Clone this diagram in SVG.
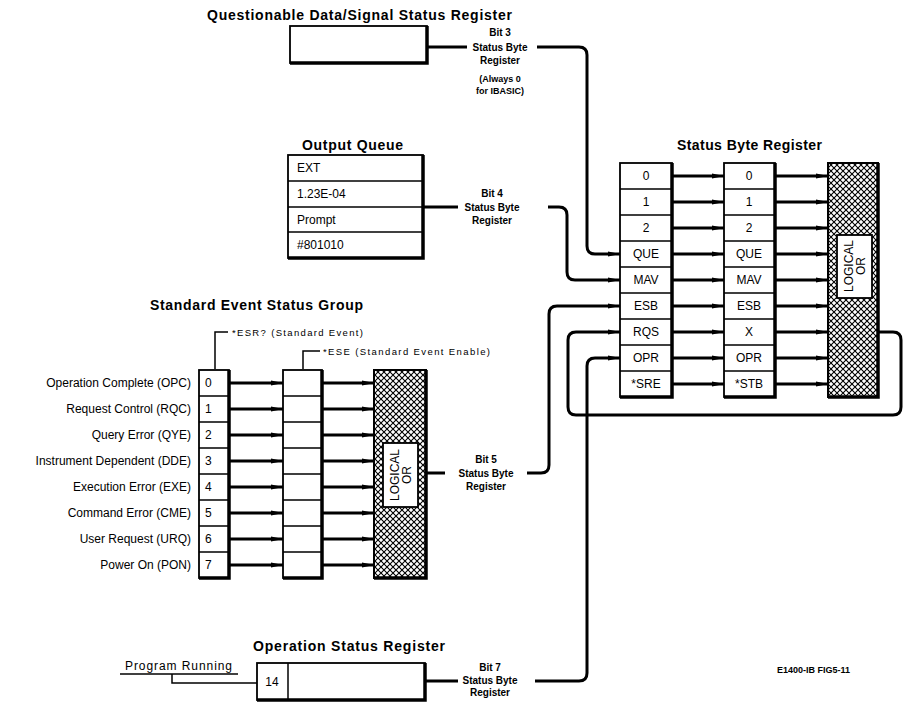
<svg xmlns="http://www.w3.org/2000/svg" width="904" height="702" viewBox="0 0 904 702">
<style>
text{font-family:"Liberation Sans",Arial,sans-serif;fill:#000}
.title{font-size:14px;font-weight:bold}
.lbl{font-size:12px}
.cell{font-size:12px;text-anchor:middle}
.bit{font-size:10px;font-weight:bold;text-anchor:middle}
.note{font-size:9px;font-weight:bold;text-anchor:middle}
.box{fill:#fff;stroke:#000;stroke-width:1.8}
.sh{fill:none;stroke:#000;stroke-width:3.5}
.div{stroke:#000;stroke-width:1.5}
.wire{fill:none;stroke:#000;stroke-width:3}
.thin{fill:none;stroke:#000;stroke-width:1.5}
.hatch{fill:url(#xh);stroke:#000;stroke-width:2}
</style>
<defs>
<pattern id="xh" patternUnits="userSpaceOnUse" width="6" height="6">
<rect width="6" height="6" fill="#fff"/>
<path d="M0,0 L6,6 M6,0 L0,6" stroke="#000" stroke-width="1.1"/>
</pattern>
<marker id="ar" markerUnits="userSpaceOnUse" markerWidth="12" markerHeight="6" refX="12" refY="3" orient="auto">
<path d="M0,0.5 L12,3 L0,5.5 z" fill="#000"/>
</marker>
</defs>

<g id="questionable">
<text class="title" x="207" y="20" textLength="305" lengthAdjust="spacing">Questionable Data/Signal Status Register</text>
<rect class="box" x="290" y="26" width="137" height="37"/>
<polyline class="sh" points="427,26 427,63 290,63"/>
</g>

<g id="output-queue">
<text class="title" x="302" y="150" textLength="101" lengthAdjust="spacing">Output Queue</text>
<rect class="box" x="288" y="155" width="135" height="103"/>
<line class="div" x1="288" y1="181" x2="423" y2="181"/>
<line class="div" x1="288" y1="207" x2="423" y2="207"/>
<line class="div" x1="288" y1="232" x2="423" y2="232"/>
<polyline class="sh" points="423,155 423,258 288,258"/>
<text class="lbl" x="297" y="172">EXT</text>
<text class="lbl" x="297" y="198">1.23E-04</text>
<text class="lbl" x="297" y="224">Prompt</text>
<text class="lbl" x="297" y="249">#801010</text>
</g>

<g id="status-byte-register">
<text class="title" x="677" y="150" textLength="145" lengthAdjust="spacing">Status Byte Register</text>
<rect class="box" x="620" y="163" width="52" height="234"/>
<path class="div" d="M620,189H672M620,215H672M620,241H672M620,267H672M620,293H672M620,319H672M620,345H672M620,371H672"/>
<polyline class="sh" points="672,163 672,397 620,397"/>
<text class="cell" x="646" y="180">0</text>
<text class="cell" x="646" y="206">1</text>
<text class="cell" x="646" y="232">2</text>
<text class="cell" x="646" y="258">QUE</text>
<text class="cell" x="646" y="284">MAV</text>
<text class="cell" x="646" y="310">ESB</text>
<text class="cell" x="646" y="336">RQS</text>
<text class="cell" x="646" y="362">OPR</text>
<text class="cell" x="646" y="388">*SRE</text>
</g>

<g id="status-byte-enable">
<rect class="box" x="724" y="163" width="51" height="234"/>
<path class="div" d="M724,189H775M724,215H775M724,241H775M724,267H775M724,293H775M724,319H775M724,345H775M724,371H775"/>
<polyline class="sh" points="775,163 775,397 724,397"/>
<text class="cell" x="749" y="180">0</text>
<text class="cell" x="749" y="206">1</text>
<text class="cell" x="749" y="232">2</text>
<text class="cell" x="749" y="258">QUE</text>
<text class="cell" x="749" y="284">MAV</text>
<text class="cell" x="749" y="310">ESB</text>
<text class="cell" x="749" y="336">X</text>
<text class="cell" x="749" y="362">OPR</text>
<text class="cell" x="749" y="388">*STB</text>
</g>

<g id="status-byte-or">
<rect class="hatch" x="828" y="163" width="50" height="234"/>
<polyline class="sh" points="878,163 878,397 828,397"/>
<rect class="box" x="837" y="235" width="35" height="63" stroke-width="1.5"/>
<text class="lbl" transform="translate(854,266) rotate(-90)" text-anchor="middle"><tspan x="0" y="-1">LOGICAL</tspan><tspan x="0" y="11">OR</tspan></text>
</g>

<g id="standard-event-status-group">
<text class="title" x="150" y="310" textLength="213" lengthAdjust="spacing">Standard Event Status Group</text>
<polyline class="thin" points="215,369 215,332 228,332"/>
<text x="232" y="336" style="font-size:9.5px" textLength="131" lengthAdjust="spacing">*ESR? (Standard Event)</text>
<text class="lbl" text-anchor="end" x="191" y="387">Operation Complete (OPC)</text>
<text class="lbl" text-anchor="end" x="191" y="413">Request Control (RQC)</text>
<text class="lbl" text-anchor="end" x="191" y="439">Query Error (QYE)</text>
<text class="lbl" text-anchor="end" x="191" y="465">Instrument Dependent (DDE)</text>
<text class="lbl" text-anchor="end" x="191" y="491">Execution Error (EXE)</text>
<text class="lbl" text-anchor="end" x="191" y="517">Command Error (CME)</text>
<text class="lbl" text-anchor="end" x="191" y="543">User Request (URQ)</text>
<text class="lbl" text-anchor="end" x="191" y="569">Power On (PON)</text>
</g>

<g id="esr-register">
<rect class="box" x="199" y="370" width="30" height="208"/>
<path class="div" d="M199,396H229M199,422H229M199,448H229M199,474H229M199,500H229M199,526H229M199,552H229"/>
<polyline class="sh" points="229,370 229,578 199,578"/>
<text class="lbl" x="205" y="387">0</text>
<text class="lbl" x="205" y="413">1</text>
<text class="lbl" x="205" y="439">2</text>
<text class="lbl" x="205" y="465">3</text>
<text class="lbl" x="205" y="491">4</text>
<text class="lbl" x="205" y="517">5</text>
<text class="lbl" x="205" y="543">6</text>
<text class="lbl" x="205" y="569">7</text>
</g>

<g id="ese-register">
<polyline class="thin" points="303,369 303,351 320,351"/>
<text x="323" y="355" style="font-size:9.5px" textLength="167" lengthAdjust="spacing">*ESE (Standard Event Enable)</text>
<rect class="box" x="283" y="370" width="39" height="208"/>
<path class="div" d="M283,396H322M283,422H322M283,448H322M283,474H322M283,500H322M283,526H322M283,552H322"/>
<polyline class="sh" points="322,370 322,578 283,578"/>
</g>

<g id="event-or">
<rect class="hatch" x="374" y="370" width="52" height="208"/>
<polyline class="sh" points="426,370 426,578 374,578"/>
<rect class="box" x="383" y="443" width="35" height="64" stroke-width="1.5"/>
<text class="lbl" transform="translate(400,475) rotate(-90)" text-anchor="middle"><tspan x="0" y="-1">LOGICAL</tspan><tspan x="0" y="11">OR</tspan></text>
</g>

<g id="operation-status-register">
<text class="title" x="253" y="651" textLength="192" lengthAdjust="spacing">Operation Status Register</text>
<rect class="box" x="257" y="663" width="168" height="37"/>
<line class="div" x1="288" y1="663" x2="288" y2="700" stroke-width="2"/>
<polyline class="sh" points="425,663 425,700 257,700"/>
<text class="cell" x="272" y="686">14</text>
<text class="lbl" x="125" y="670" textLength="107" lengthAdjust="spacing">Program Running</text>
<polyline class="thin" points="120,674 238,674"/>
<polyline class="thin" points="172,674 172,683 257,683"/>
</g>

<g id="labels">
<text class="bit" x="500" y="36">Bit 3</text>
<text class="bit" x="500" y="51">Status Byte</text>
<text class="bit" x="500" y="64">Register</text>
<text class="note" x="500" y="82">(Always 0</text>
<text class="note" x="500" y="94">for IBASIC)</text>
<text class="bit" x="492" y="197">Bit 4</text>
<text class="bit" x="492" y="211">Status Byte</text>
<text class="bit" x="492" y="224">Register</text>
<text class="bit" x="486" y="463">Bit 5</text>
<text class="bit" x="486" y="477">Status Byte</text>
<text class="bit" x="486" y="490">Register</text>
<text class="bit" x="490" y="671">Bit 7</text>
<text class="bit" x="490" y="684">Status Byte</text>
<text class="bit" x="490" y="696">Register</text>
<text x="777" y="673" style="font-size:9px;font-weight:bold">E1400-IB FIG5-11</text>
</g>

<g id="connectors">
<path class="wire" d="M427,47H467M537,47H579Q587,47 587,55V246Q587,254 595,254H620" marker-end="url(#ar)"/>
<path class="wire" d="M423,207H458M548,207H559Q567,207 567,215V272Q567,280 575,280H620" marker-end="url(#ar)"/>
<path class="wire" d="M426,473H445M527,473H541Q549,473 549,465V314Q549,306 557,306H620" marker-end="url(#ar)"/>
<path class="wire" d="M425,681H458M535,681H579Q587,681 587,673V366Q587,358 595,358H620" marker-end="url(#ar)"/>
<path class="wire" d="M878,332H893Q901,332 901,340V407Q901,415 893,415H576Q568,415 568,407V340Q568,332 576,332H620" marker-end="url(#ar)"/>
<g marker-end="url(#ar)">
<path class="wire" d="M672,176H724"/><path class="wire" d="M672,202H724"/><path class="wire" d="M672,228H724"/>
<path class="wire" d="M672,254H724"/><path class="wire" d="M672,280H724"/><path class="wire" d="M672,306H724"/>
<path class="wire" d="M672,332H724"/><path class="wire" d="M672,358H724"/><path class="wire" d="M672,384H724"/>
<path class="wire" d="M775,176H828"/><path class="wire" d="M775,202H828"/><path class="wire" d="M775,228H828"/>
<path class="wire" d="M775,254H828"/><path class="wire" d="M775,280H828"/><path class="wire" d="M775,306H828"/>
<path class="wire" d="M775,332H828"/><path class="wire" d="M775,358H828"/><path class="wire" d="M775,384H828"/>
<path class="wire" d="M229,383H283"/><path class="wire" d="M229,409H283"/><path class="wire" d="M229,435H283"/>
<path class="wire" d="M229,461H283"/><path class="wire" d="M229,487H283"/><path class="wire" d="M229,513H283"/>
<path class="wire" d="M229,539H283"/><path class="wire" d="M229,565H283"/>
<path class="wire" d="M322,383H374"/><path class="wire" d="M322,409H374"/><path class="wire" d="M322,435H374"/>
<path class="wire" d="M322,461H374"/><path class="wire" d="M322,487H374"/><path class="wire" d="M322,513H374"/>
<path class="wire" d="M322,539H374"/><path class="wire" d="M322,565H374"/>
</g>
</g>
</svg>
